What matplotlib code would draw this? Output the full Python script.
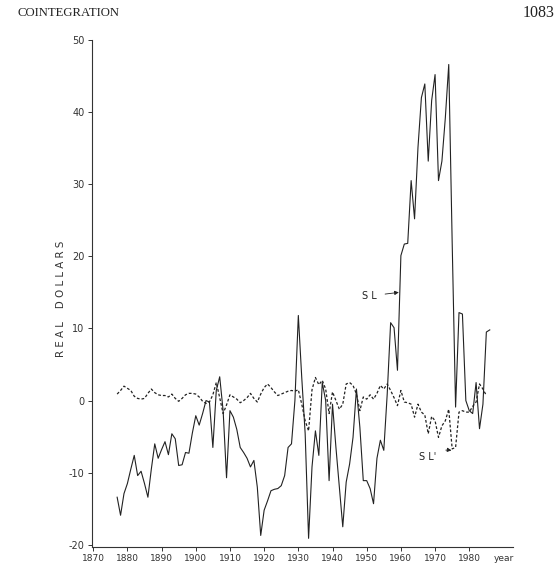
import numpy as np
from matplotlib import pyplot as plt

plt.rcParams['axes.unicode_minus'] = False

# SL, annual, 1877-1986 (real dollars)
sl_years = np.arange(1877, 1987)
sl = [-13.4, -15.9, -12.9,
      -11.5, -9.5, -7.6, -10.4, -9.8, -11.5, -13.4, -9.5, -6.0, -8.0,
      -6.8, -5.7, -7.5, -4.6, -5.3, -9.0, -8.9, -7.2, -7.3, -4.5,
      -2.1, -3.4, -1.8, 0.0, -0.2, -6.5, 1.4, 3.3, -1.4, -10.7,
      -1.4, -2.3, -4.0, -6.5, -7.2, -8.0, -9.2, -8.3, -12.0, -18.7,
      -15.2, -13.9, -12.5, -12.3, -12.2, -11.8, -10.4, -6.5, -6.0, 0.0,
      11.8, 3.2, -4.6, -19.1, -9.2, -4.2, -7.6, 2.5, 0.0, -11.1,
      -0.5, -6.5, -12.0, -17.5, -11.3, -8.8, -5.1, 1.6, -3.7, -11.1,
      -11.1, -12.2, -14.3, -8.0, -5.5, -6.9, 0.9, 10.8, 10.1, 4.2,
      20.1, 21.7, 21.8, 30.5, 25.2, 35.1, 42.0, 43.9, 33.2, 41.6,
      45.2, 30.5, 33.2, 39.2, 46.6, 22.0, -0.9, 12.2, 12.0, 0.0,
      -1.4, -1.8, 2.5, -3.9, -0.5, 9.5, 9.8]

# SL' (dashed), annual, 1877-1985
slp_years = np.arange(1877, 1986)
slp = [0.9, 1.4, 2.0,
       1.7, 1.4, 0.6, 0.3, 0.2, 0.3, 1.0, 1.6, 1.1, 0.8,
       0.7, 0.7, 0.5, 0.9, 0.3, -0.1, 0.3, 0.8, 1.0, 1.0,
       0.9, 0.5, -0.1, -0.4, -0.2, 0.8, 2.5, 0.4, -1.8, -0.6,
       0.8, 0.5, 0.2, -0.3, 0.0, 0.4, 1.0, 0.3, -0.2, 0.9,
       1.8, 2.3, 1.8, 1.2, 0.7, 0.9, 1.1, 1.3, 1.4, 1.3,
       1.5, -0.5, -2.8, -4.2, 1.5, 3.2, 2.2, 2.8, 1.6, -1.8,
       1.2, 0.0, -1.2, -0.5, 2.3, 2.5, 2.1, 0.9, -1.4, 0.5,
       0.2, 0.8, 0.2, 1.0, 2.1, 1.6, 2.3, 1.4, 0.4, -0.7,
       1.4, -0.2, -0.3, -0.5, -2.3, -0.5, -1.6, -2.0, -4.6, -2.2,
       -2.8, -5.1, -3.5, -2.8, -1.2, -6.7, -6.5, -1.6, -1.4, -1.6,
       -1.6, -0.8, -0.2, 2.3, 1.6, 0.7]

x_ticks = [1870, 1880, 1890, 1900, 1910, 1920, 1930, 1940, 1950, 1960, 1970, 1980, 1990]
x_labels = ['1870', '1880', '1890', '1900', '1910', '1920', '1930', '1940',
            '1950', '1960', '1970', '1980', 'year']
y_ticks = [-20, -10, 0, 10, 20, 30, 40, 50]
y_labels = ['-20', '-10', '0', '10', '20', '30', '40', '50']

fig = plt.figure(figsize=(5.6, 5.66), dpi=100)
ax = fig.add_axes([0.1634, 0.0336, 0.7527, 0.8958])

ax.plot(sl_years, sl, color='#222222', lw=0.8)
ax.plot(slp_years, slp, color='#222222', lw=0.9, linestyle=(0, (2.2, 1.6)))

ax.set_xlim(1869.5, 1992.8)
ax.set_ylim(-20.3, 50)
for s in ['top', 'right']:
    ax.spines[s].set_visible(False)
for s in ['left', 'bottom']:
    ax.spines[s].set_linewidth(0.8)
    ax.spines[s].set_color('#333333')

ax.set_xticks(x_ticks)
ax.set_xticklabels(x_labels, fontsize=6.5, color='#333333')
ax.set_yticks(y_ticks)
ax.set_yticklabels(y_labels, fontsize=7, color='#333333')
ax.tick_params(length=3, width=0.7, pad=2, color='#333333')
ax.xaxis.get_major_ticks()[-1].tick1line.set_visible(False)

ax.text(-0.072, 0.49, 'R E A L    D O L L A R S', transform=ax.transAxes,
        rotation=90, fontsize=7.4, ha='center', va='center', color='#333333')

ax.annotate('S L', xy=(1959.4, 15.0), xytext=(1950.8, 14.5),
            fontsize=7, ha='center', va='center', color='#222222',
            arrowprops=dict(arrowstyle='-|>', lw=0.6, color='#222222',
                            mutation_scale=6, shrinkA=4, shrinkB=0))
ax.annotate("S L'", xy=(1974.8, -6.9), xytext=(1967.8, -7.8),
            fontsize=7, ha='center', va='center', color='#222222',
            arrowprops=dict(arrowstyle='-|>', lw=0.6, color='#222222',
                            mutation_scale=6, shrinkA=5, shrinkB=0,
                            connectionstyle='arc3,rad=-0.2'))

fig.text(18 / 560, 1 - 13 / 566, 'COINTEGRATION', fontsize=9.2, family='Liberation Serif',
         ha='left', va='center', color='#222222')
fig.text(555 / 560, 1 - 13 / 566, '1083', fontsize=11.5, family='Liberation Serif',
         ha='right', va='center', color='#222222')

fig.savefig('out.png', dpi=100)
